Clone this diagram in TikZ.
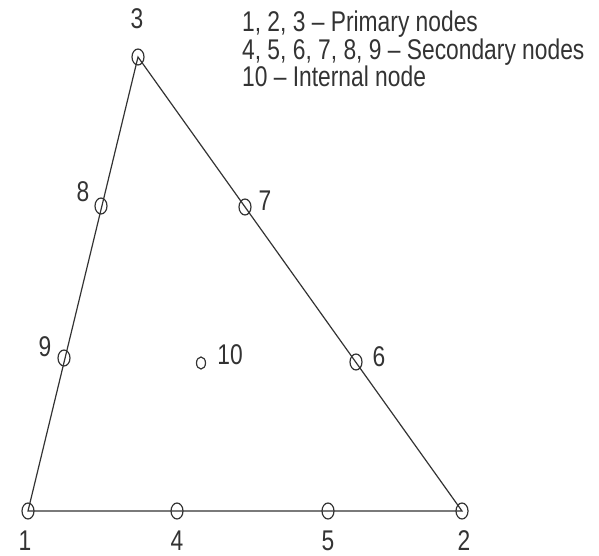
\documentclass[tikz,border=0pt]{standalone}
\usepackage{fontspec}
\setmainfont{Liberation Sans}
\usetikzlibrary{shapes.geometric}

\begin{document}
\begin{tikzpicture}[x=1pt,y=-1pt,
  nd/.style={draw=black!80,line width=1.2pt,ellipse,minimum width=12pt,minimum height=16pt,inner sep=0pt},
  lbl/.style={font=\fontsize{28.5}{30}\selectfont,text=black!80,xscale=0.8,inner sep=0pt}]
  \useasboundingbox (0,0) rectangle (599,556);
  % primary nodes
  \node[nd] (n1) at (28,511) {};
  \node[nd] (n2) at (462,511) {};
  \node[nd] (n3) at (138,57) {};
  % secondary nodes
  \node[nd] (n4) at (177,511) {};
  \node[nd] (n5) at (328,511) {};
  \node[nd] (n6) at (356,362) {};
  \node[nd] (n7) at (245,207) {};
  \node[nd] (n8) at (101,206) {};
  \node[nd] (n9) at (64,358) {};
  % internal node
  \node[nd,minimum width=9pt,minimum height=12pt] (n10) at (201,363) {};
  % element edges
  \draw[black!80,line width=1.2pt] (n1.center) -- (n2.center) -- (n3.center) -- cycle;
  % numbers
  \node[lbl] (l1) at (25,541) {1};
  \node[lbl] (l2) at (464,541) {2};
  \node[lbl] (l3) at (137,19) {3};
  \node[lbl] (l4) at (177,541) {4};
  \node[lbl] (l5) at (328,541) {5};
  \node[lbl] (l6) at (379,357) {6};
  \node[lbl] (l7) at (265,201) {7};
  \node[lbl] (l8) at (83,192) {8};
  \node[lbl] (l9) at (45,347) {9};
  \node[lbl] (l10) at (230,355) {10};
  % key
  \node[lbl,anchor=base west] (k1) at (242,32) {1, 2, 3 – Primary nodes};
  \node[lbl,anchor=base west] (k2) at (242,60) {4, 5, 6, 7, 8, 9 – Secondary nodes};
  \node[lbl,anchor=base west] (k3) at (242,87) {10 – Internal node};
\end{tikzpicture}
\end{document}
